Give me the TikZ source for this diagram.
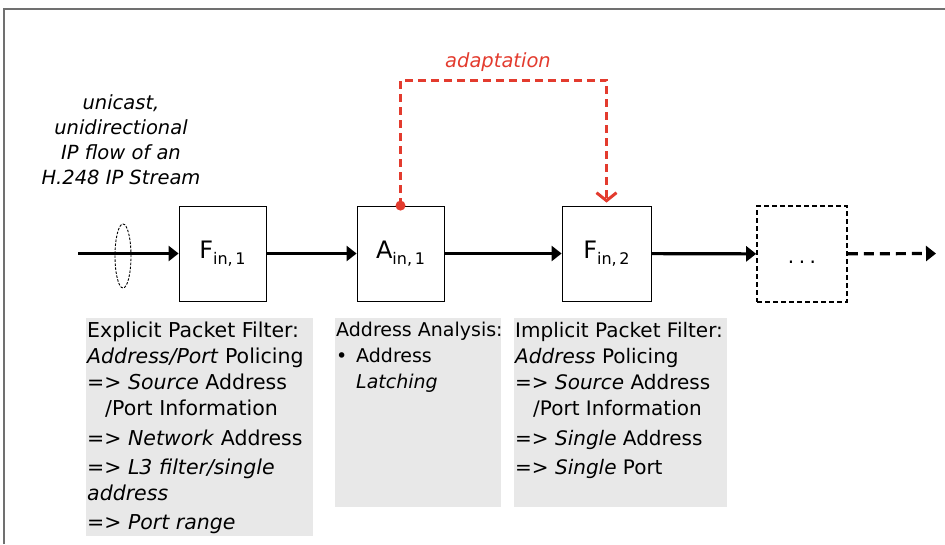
\documentclass[tikz,border=0pt]{standalone}
\usepackage{fontspec}
\setmainfont{DejaVu Sans}
\usetikzlibrary{arrows.meta}
\definecolor{adred}{HTML}{E33B2E}
\definecolor{gbg}{HTML}{E8E8E8}
\definecolor{framegray}{HTML}{707070}
\newcommand\blab[2]{#1\raisebox{-6.5pt}{\fontsize{16}{16}\selectfont in,\,#2}}
\tikzset{
  blk/.style={draw, line width=0.8pt, minimum width=87pt, minimum height=95pt, inner sep=0pt, font=\fontsize{24}{24}\selectfont},
  dbox/.style={draw, line width=1.6pt, dash pattern=on 5pt off 3pt, minimum width=90pt, minimum height=96pt, inner sep=0pt},
  flow/.style={line width=3.2pt, -{Triangle[length=10pt,width=15pt]}},
  adapt/.style={adred, line width=3pt, dash pattern=on 8pt off 5pt, -{Straight Barb[length=8pt,width=20pt]}},
  gbox/.style={fill=gbg, draw=none, inner sep=0pt},
  gtext/.style={anchor=north west, inner sep=0pt, align=left},
  itext/.style={font=\fontsize{19.5}{25}\selectfont\itshape, inner sep=0pt}
}
\begin{document}
\begin{tikzpicture}[x=1pt,y=-1pt]
\useasboundingbox (0,0) rectangle (945,544);
\draw[framegray, line width=2pt] (4,544) -- (4,9) -- (945,9);

% gray boxes
\node[gbox, minimum width=227pt, minimum height=218pt] (G1) at (199.5,427) {};
\node[gbox, minimum width=166pt, minimum height=189pt] (G2) at (418,412.5) {};
\node[gbox, minimum width=213pt, minimum height=189pt] (G3) at (620.5,412.5) {};

% blocks
\node[blk] (F1) at (222.5,253.5) {\blab{F}{1}};
\node[blk] (A1) at (400.5,253.5) {\blab{A}{1}};
\node[blk, minimum width=89pt] (F2) at (606.5,253.5) {\blab{F}{2}};
\node[dbox] (D) at (802,254) {};
\node[font=\fontsize{20}{20}\selectfont, inner sep=0pt] (dots) at (802,262) {.\hspace{4.5pt}.\hspace{4.5pt}.};

% flow
\coordinate (in) at (78,253.5);
\coordinate (out) at (936,253.5);
\draw[flow] (in) -- (F1);
\draw[flow] (F1) -- (A1);
\draw[flow] (A1) -- (F2);
\draw[flow] (F2) -- (D);
\draw[flow, dash pattern=on 10pt off 6pt] (D) -- (out);
\draw[line width=0.9pt, dash pattern=on 2.5pt off 1.5pt] (123,256) ellipse [x radius=8pt, y radius=32pt];

% adaptation
\coordinate (adtop) at (500,80);
\draw[adapt] (A1.north) -- (A1.north |- adtop) -- (F2.north |- adtop) -- ([yshift=3pt]F2.north);
\fill[adred] (A1.north) circle[radius=5pt];
\node[itext, text=adred] (adlab) at (498,62) {adaptation};

% stream label
\node[itext, align=center] (stream) at (121,140) {unicast,\\unidirectional\\IP flow of an\\H.248 IP Stream};

% box texts
\node[gtext, font=\fontsize{20.5}{26}\selectfont] (T1) at (87,322) {Explicit Packet Filter:\\
\textit{Address/Port} Policing\\
=> \textit{Source} Address\\
\hspace*{18pt}/Port Information\\[4pt]
=> \textit{Network} Address\\[3pt]
=> \textit{L3 filter/single}\\
\textit{address}\\[3pt]
=> \textit{Port range}};
\node[gtext, font=\fontsize{19}{26}\selectfont] (T2) at (336,322) {Address Analysis:\\
\makebox[20pt][l]{•}Address\\
\hspace*{20pt}\textit{Latching}};
\node[gtext, font=\fontsize{20}{26}\selectfont] (T3) at (515,322) {Implicit Packet Filter:\\
\textit{Address} Policing\\
=> \textit{Source} Address\\
\hspace*{18pt}/Port Information\\[4pt]
=> \textit{Single} Address\\[3pt]
=> \textit{Single} Port};
\end{tikzpicture}
\end{document}
